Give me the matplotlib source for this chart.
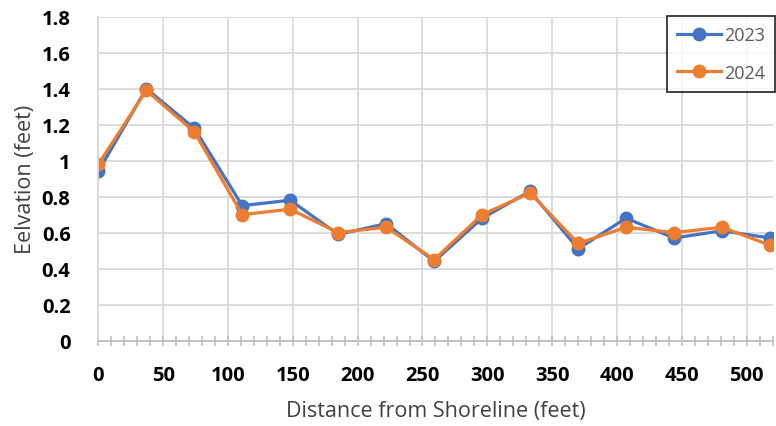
import numpy as np
import matplotlib
matplotlib.use("Agg")
import matplotlib.pyplot as plt
from matplotlib.ticker import MultipleLocator

# datos
distancia = [0, 37, 74, 111, 148, 185, 222, 259, 296, 333, 370, 407, 444, 481, 518]
elev_2023 = [0.94, 1.40, 1.18, 0.75, 0.78, 0.59, 0.65, 0.44, 0.68, 0.83, 0.51, 0.68, 0.57, 0.61, 0.57]
elev_2024 = [0.98, 1.39, 1.16, 0.70, 0.73, 0.60, 0.63, 0.45, 0.70, 0.82, 0.54, 0.63, 0.60, 0.63, 0.53]
series = ["2023", "2024"]
colores = ["#4472C4", "#ED7D31"]

plt.rcParams['font.family'] = ['Open Sans', 'DejaVu Sans']

fig = plt.figure(figsize=(7.76, 4.27), dpi=100)
ax = fig.add_axes([0.1267, 0.2, 0.8689, 0.7587])

for nombre, valores, c in zip(series, [elev_2023, elev_2024], colores):
    ax.plot(distancia, valores, color=c, lw=2.3, marker='o', ms=9, label=nombre)

ax.set_xlim(0, 520)
ax.set_ylim(0, 1.8)
ax.xaxis.set_major_locator(MultipleLocator(50))
ax.xaxis.set_minor_locator(MultipleLocator(10))
ax.set_yticks(np.arange(0, 1.81, 0.2))
ax.set_yticklabels(["0", "0.2", "0.4", "0.6", "0.8", "1", "1.2", "1.4", "1.6", "1.8"])

ax.grid(True, which='major', color='#D9D9D9', lw=1.3)
ax.set_axisbelow(True)
for s in ['top', 'right']:
    ax.spines[s].set_visible(False)
ax.spines['left'].set_color('#D9D9D9')
ax.spines['bottom'].set_color('#BFBFBF')
ax.spines['left'].set_linewidth(1.3)
ax.spines['bottom'].set_linewidth(1.3)

ax.tick_params(axis='x', which='both', direction='inout', length=7, color='#BFBFBF', width=1.2,
               labelsize=14.5, pad=14)
ax.tick_params(axis='y', length=0, labelsize=14.5, pad=20)
for t in ax.get_xticklabels() + ax.get_yticklabels():
    t.set_fontweight('bold')

ax.set_xlabel("Distance from Shoreline (feet)", fontsize=15.5, color='#404040', labelpad=11)
ax.set_ylabel("Eelvation (feet)", fontsize=15.5, color='#404040', labelpad=4)

leg = ax.legend(loc='upper right', bbox_to_anchor=(1.004, 1.002), frameon=True, fancybox=False,
                edgecolor='black', fontsize=13, handlelength=2.4, handletextpad=0.2,
                borderpad=0.55, labelspacing=1.1, borderaxespad=0)
leg.get_frame().set_linewidth(1.3)
for t in leg.get_texts():
    t.set_color('#595959')

fig.savefig("out.png", dpi=100)
